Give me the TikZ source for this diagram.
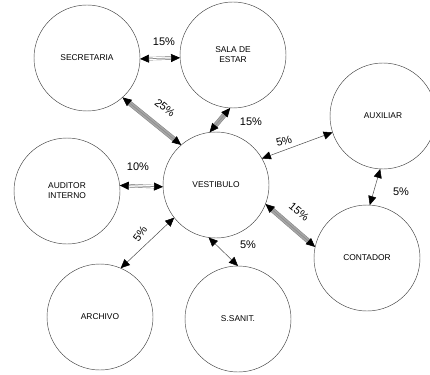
\documentclass[tikz,border=0pt]{standalone}
\usepackage{fontspec}
\setmainfont{Liberation Sans}
\usetikzlibrary{arrows.meta}
\begin{document}
\begin{tikzpicture}[x=1pt,y=-1pt,
  room/.style={circle, draw=black!75, line width=0.45pt, minimum size=106pt,
               inner sep=0pt, outer sep=0pt, align=center,
               font=\fontsize{8.4}{10}\selectfont},
  pct/.style={font=\fontsize{11}{12}\selectfont, inner sep=0.3pt},
  tips/.style={arrows={Triangle[length=9pt,width=8pt,black]-Triangle[length=9pt,width=8pt,black]}},
  thinlink/.style={tips, draw=black!70, line width=0.5pt},
  duallink/.style={draw=black!60, line width=0.4pt, double=white, double distance=2.6pt,
                   shorten <=8pt, shorten >=8pt},
  heavylink/.style={draw=black!50, line width=0.5pt, double=black!35, double distance=4pt,
                    shorten <=8pt, shorten >=8pt},
  midline/.style={tips, draw=black!45, line width=0.6pt}]
\useasboundingbox (0,0) rectangle (430,374);

% rooms
\node[room] (sec)  at (87,58)   {SECRETARIA};
\node[room] (sala) at (233,55)  {SALA DE\\ESTAR};
\node[room] (aux)  at (383,116) {AUXILIAR};
\node[room] (vest) at (216,185) {VESTIBULO};
\node[room] (aud)  at (67,191)  {AUDITOR\\INTERNO};
\node[room] (cont) at (367,258) {CONTADOR};
\node[room] (arch) at (100,317) {ARCHIVO};
\node[room] (san)  at (238,319) {S.SANIT.};

% heavy flows
\draw[heavylink] (sec.-48) -- (vest.131);
\draw[midline]   (sec.-48) -- (vest.131);
\draw[heavylink] (sala.-93) -- (vest.97);
\draw[midline]   (sala.-93) -- (vest.97);
\draw[heavylink] (vest.-21) -- (cont.168);
\draw[midline]   (vest.-21) -- (cont.168);

% medium flows
\draw[duallink] (sec.-1) -- (sala.183);
\draw[midline]  (sec.-1) -- (sala.183);
\draw[duallink] (aud.6) -- (vest.182);
\draw[midline]  (aud.6) -- (vest.182);

% light flows
\draw[thinlink] (vest.30) -- (aux.198);
\draw[thinlink] (vest.218) -- (arch.67);
\draw[thinlink] (vest.-98) -- (san.90);
\draw[thinlink] (aux.-93) -- (cont.87);

% percentages
\node[pct] (p1) at (164,42)  {15\%};
\node[pct, rotate=-38] (p2) at (165,108) {25\%};
\node[pct] (p3) at (251,122) {15\%};
\node[pct] (p4) at (138,167) {10\%};
\node[pct, rotate=15] (p5) at (284,141) {5\%};
\node[pct, rotate=-40] (p6) at (299,212) {15\%};
\node[pct, rotate=55] (p7) at (140,234) {5\%};
\node[pct] (p8) at (248,245) {5\%};
\node[pct] (p9) at (401,192) {5\%};
\end{tikzpicture}
\end{document}
